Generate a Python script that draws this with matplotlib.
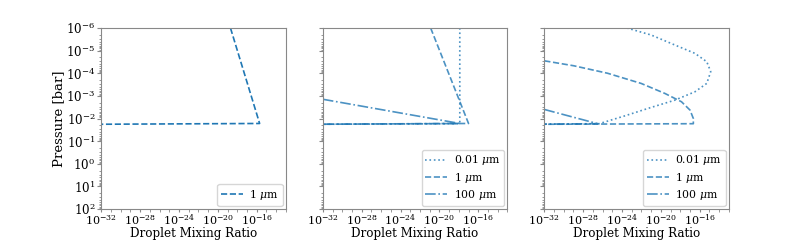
import matplotlib
matplotlib.use("Agg")
import matplotlib.pyplot as plt
import matplotlib.ticker as mticker
import numpy as np

plt.rcParams['font.family'] = ['DejaVu Serif']
plt.rcParams['mathtext.fontset'] = 'dejavuserif'

# ---- data (log10 values) ----
# Panel 1: 1 um
p1_1um_logx = [-18.7, -15.7, -35.0]
p1_1um_logp = [-6.0, -1.78, -1.74]

# Panel 2
p2_001_logx = [-17.9, -17.9, -35.0]
p2_001_logp = [-6.0, -1.77, -1.74]
p2_1um_logx = [-20.9, -17.0, -35.0]
p2_1um_logp = [-6.0, -1.78, -1.74]
p2_100_logx = [-32.0, -17.9, -35.0]
p2_100_logp = [-2.85, -1.78, -1.74]

# Panel 3
p3_001_logx = [-23.5, -21.0, -18.57, -16.5, -15.28, -14.87, -15.28, -16.5,
               -18.57, -21.0, -23.76, -26.36, -35.0]
p3_001_logp = [-6.0, -5.69, -5.25, -4.88, -4.51, -4.07, -3.55, -3.18,
               -2.81, -2.49, -2.11, -1.77, -1.74]
p3_1um_logx = [-32.0, -28.96, -25.49, -22.03, -19.6, -17.88, -17.0, -16.66,
               -16.66, -35.0]
p3_1um_logp = [-4.55, -4.33, -4.0, -3.55, -3.11, -2.74, -2.37, -2.0,
               -1.77, -1.74]
p3_100_logx = [-32.0, -26.5, -35.0]
p3_100_logp = [-2.40, -1.77, -1.74]

labels = ['0.01 $\\mu$m', '1 $\\mu$m', '100 $\\mu$m']
xlabel = 'Droplet Mixing Ratio'
ylabel = 'Pressure [bar]'
xticks = [1e-32, 1e-28, 1e-24, 1e-20, 1e-16]
yticks = [1e-6, 1e-5, 1e-4, 1e-3, 1e-2, 1e-1, 1e0, 1e1, 1e2]

color = '#1f77b4'

fig = plt.figure(figsize=(8.1, 2.4), dpi=100)
lefts = [101.25, 322.8, 544.3]
W, H = 810.0, 240.0
axes = []
for l in lefts:
    ax = fig.add_axes([l / W, 1 - 209 / H, 184.6 / W, 181 / H])
    axes.append(ax)

def P(a):
    return 10.0 ** np.array(a)

ax = axes[0]
ax.plot(P(p1_1um_logx), P(p1_1um_logp), '--', color=color, lw=1.2, label=labels[1])

ax = axes[1]
ax.plot(P(p2_001_logx), P(p2_001_logp), ':', color=color, alpha=0.8, lw=1.2, label=labels[0])
ax.plot(P(p2_1um_logx), P(p2_1um_logp), '--', color=color, alpha=0.8, lw=1.2, label=labels[1])
ax.plot(P(p2_100_logx), P(p2_100_logp), '-.', color=color, alpha=0.8, lw=1.2, label=labels[2])

ax = axes[2]
ax.plot(P(p3_001_logx), P(p3_001_logp), ':', color=color, alpha=0.8, lw=1.2, label=labels[0])
ax.plot(P(p3_1um_logx), P(p3_1um_logp), '--', color=color, alpha=0.8, lw=1.2, label=labels[1])
ax.plot(P(p3_100_logx), P(p3_100_logp), '-.', color=color, alpha=0.8, lw=1.2, label=labels[2])

for i, ax in enumerate(axes):
    ax.set_xscale('log')
    ax.set_yscale('log')
    ax.set_xlim(1e-32, 1e-13)
    ax.set_ylim(1e2, 1e-6)
    ax.set_xticks(xticks)
    ax.xaxis.set_minor_locator(mticker.FixedLocator(10.0 ** np.arange(-32, -12)))
    ax.xaxis.set_minor_formatter(mticker.NullFormatter())
    ax.set_yticks(yticks)
    ax.yaxis.set_minor_locator(mticker.LogLocator(base=10, subs=np.arange(2, 10), numticks=30))
    ax.yaxis.set_minor_formatter(mticker.NullFormatter())
    ax.tick_params(axis='y', which='major', labelsize=8.6, colors='#888888',
                   labelcolor='black', length=3, width=0.8, pad=1.2)
    ax.tick_params(axis='x', which='major', labelsize=8.0, colors='#888888',
                   labelcolor='black', length=2.5, width=0.8, pad=0.3)
    ax.tick_params(axis='both', which='minor', colors='#888888', length=1.8, width=0.6)
    for s in ax.spines.values():
        s.set_edgecolor('#888888')
    ax.set_xlabel(xlabel, fontsize=8.6)
    ax.xaxis.set_label_coords(0.5, -0.097)
    if i == 0:
        ax.set_ylabel(ylabel, fontsize=9.5, labelpad=1)
    else:
        ax.set_yticklabels([])
    ax.legend(loc='lower right', fontsize=7.8, handlelength=2.0,
              labelspacing=0.3, borderaxespad=0.3, borderpad=0.35,
              handletextpad=0.6)

fig.savefig('out.png', dpi=100)
